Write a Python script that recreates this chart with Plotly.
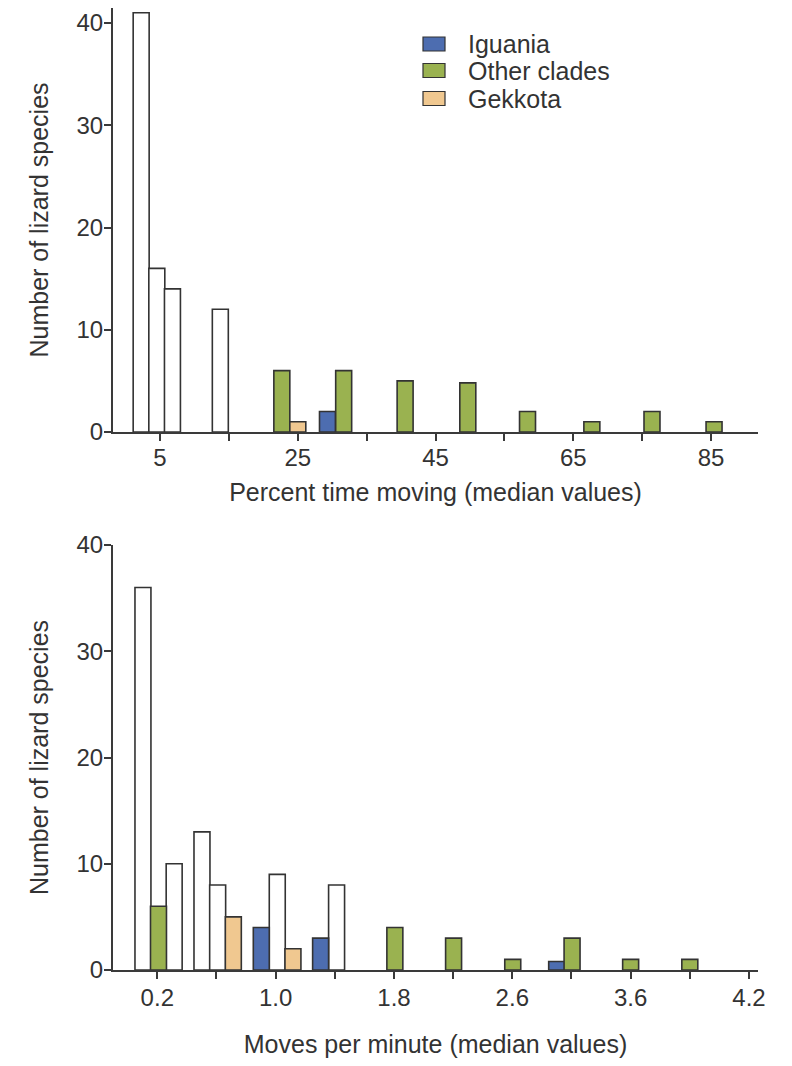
import plotly.graph_objects as go

# ---------------- data ----------------
# Top panel: percent time moving (median values)
top_white_x = [2.27, 4.54, 6.81, 13.76]
top_white_y = [41, 16, 14, 12]
top_iguania_x = [29.32]
top_iguania_y = [2]
top_other_x = [22.69, 31.67, 40.59, 49.69, 58.36, 67.70, 76.43, 85.44]
top_other_y = [6, 6, 5, 4.8, 2, 1, 2, 1]
top_gekkota_x = [25.01]
top_gekkota_y = [1]
top_tickvals = [5, 15, 25, 35, 45, 55, 65, 75, 85]
top_ticktext = ["5", "", "25", "", "45", "", "65", "", "85"]

# Bottom panel: moves per minute (median values)
bot_white_x = [0.103, 0.314, 0.502, 0.608, 1.011, 1.412]
bot_white_y = [36, 10, 13, 8, 9, 8]
bot_iguania_x = [0.903, 1.304, 2.90]
bot_iguania_y = [4, 3, 0.8]
bot_other_x = [0.208, 1.806, 2.203, 2.603, 3.004, 3.40, 3.80]
bot_other_y = [6, 4, 3, 1, 3, 1, 1]
bot_gekkota_x = [0.714, 1.117]
bot_gekkota_y = [5, 2]
bot_tickvals = [0.2, 0.6, 1.0, 1.4, 1.8, 2.2, 2.6, 3.0, 3.4, 3.8, 4.2]
bot_ticktext = ["0.2", "", "1.0", "", "1.8", "", "2.6", "", "3.6", "", "4.2"]

y_tickvals = [0, 10, 20, 30, 40]

legend_names = ["Iguania", "Other clades", "Gekkota"]

# ---------------- style ----------------
C_IGU = "#4d6db0"
C_OTH = "#9ab250"
C_GEK = "#f0c890"
C_WHITE = "#ffffff"
legend_colors = [C_IGU, C_OTH, C_GEK]
EDGE = "#333333"
AX = "#3a3a3a"
TXT = "#333333"
FONT = "Liberation Sans, Arial, sans-serif"
TOP_W = 2.32
BOT_W = 0.108

W, H = 792, 1066
OFF = 8  # page offset of the figure inside the browser window


def px_x(p):
    return (p - OFF) / W


def px_y(p):
    return 1 - (p - OFF) / H


fig = go.Figure()


def add_bars(x, y, color, name, w, xa, ya):
    fig.add_trace(go.Bar(
        x=x, y=y, width=[w] * len(x), name=name,
        marker=dict(color=color, line=dict(color=EDGE, width=1.6)),
        xaxis=xa, yaxis=ya, showlegend=False,
    ))


add_bars(top_white_x, top_white_y, C_WHITE, "white", TOP_W, "x", "y")
add_bars(top_iguania_x, top_iguania_y, C_IGU, "Iguania", TOP_W, "x", "y")
add_bars(top_other_x, top_other_y, C_OTH, "Other clades", TOP_W, "x", "y")
add_bars(top_gekkota_x, top_gekkota_y, C_GEK, "Gekkota", TOP_W, "x", "y")

add_bars(bot_white_x, bot_white_y, C_WHITE, "white", BOT_W, "x2", "y2")
add_bars(bot_iguania_x, bot_iguania_y, C_IGU, "Iguania", BOT_W, "x2", "y2")
add_bars(bot_other_x, bot_other_y, C_OTH, "Other clades", BOT_W, "x2", "y2")
add_bars(bot_gekkota_x, bot_gekkota_y, C_GEK, "Gekkota", BOT_W, "x2", "y2")

xdom = [px_x(113), px_x(758)]

axis_common = dict(
    showline=True, linecolor=AX, linewidth=2,
    ticks="outside", ticklen=7, tickwidth=2, tickcolor=AX,
    showgrid=False, zeroline=False, automargin=False,
    tickfont=dict(family=FONT, size=24, color=TXT),
)
title_font = dict(family=FONT, size=25, color=TXT)

# legend drawn as boxes + labels (top panel, upper right)
shapes = []
annotations = []
row_centers = [44, 70.5, 98.5]
for name, col, yc in zip(legend_names, legend_colors, row_centers):
    shapes.append(dict(
        type="rect", xref="paper", yref="paper",
        x0=px_x(423), x1=px_x(445), y0=px_y(yc + 7), y1=px_y(yc - 7),
        fillcolor=col, line=dict(color=EDGE, width=1.2),
    ))
    annotations.append(dict(
        text=name, xref="paper", yref="paper", x=px_x(466), y=px_y(yc),
        xanchor="left", yanchor="middle", showarrow=False,
        font=dict(family=FONT, size=25, color=TXT),
    ))

fig.update_layout(
    template=None,
    width=W, height=H,
    autosize=False,
    margin=dict(l=0, r=0, t=0, b=0, pad=0),
    paper_bgcolor="white", plot_bgcolor="white",
    barmode="overlay",
    showlegend=False,
    font=dict(family=FONT, color=TXT),
    shapes=shapes,
    annotations=annotations,
    xaxis=dict(
        domain=xdom, range=[-1.82, 91.82], anchor="y",
        tickvals=top_tickvals, ticktext=top_ticktext, ticklabelstandoff=-4,
        title=dict(text="Percent time moving (median values)", font=title_font, standoff=14),
        **axis_common,
    ),
    yaxis=dict(
        domain=[px_y(432), 1], range=[0, 41.47], anchor="x",
        tickvals=y_tickvals, ticklabelstandoff=-4,
        title=dict(text="Number of lizard species", font=title_font, standoff=21),
        **axis_common,
    ),
    xaxis2=dict(
        domain=xdom, range=[-0.0995, 4.261], anchor="y2",
        tickvals=bot_tickvals, ticktext=bot_ticktext, ticklabelstandoff=-2,
        title=dict(text="Moves per minute (median values)", font=title_font, standoff=26),
        **axis_common,
    ),
    yaxis2=dict(
        domain=[px_y(970), px_y(545)], range=[0, 40], anchor="x2",
        tickvals=y_tickvals, ticklabelstandoff=-4,
        title=dict(text="Number of lizard species", font=title_font, standoff=21),
        **axis_common,
    ),
)

fig.write_html("out.html")
